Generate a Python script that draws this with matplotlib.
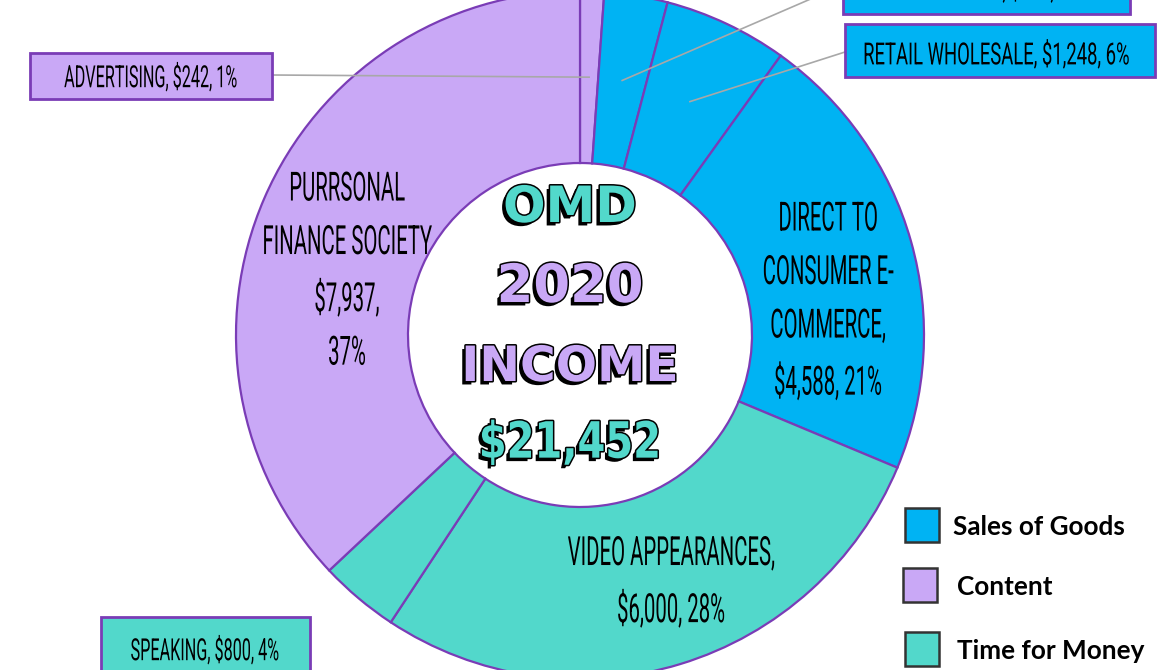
import matplotlib
matplotlib.use("Agg")
import matplotlib.pyplot as plt
import numpy as np
from matplotlib.patches import Rectangle
from matplotlib.patheffects import AbstractPathEffect, Normal, Stroke, SimplePatchShadow
from matplotlib.transforms import Affine2D

# ---------------- data ----------------
categories = ["ADVERTISING", "AFFILIATE", "RETAIL WHOLESALE",
              "DIRECT TO\nCONSUMER E-\nCOMMERCE", "VIDEO APPEARANCES",
              "SPEAKING", "PURRSONAL\nFINANCE SOCIETY"]
values = [242, 637, 1248, 4588, 6000, 800, 7937]
groups = ["Content", "Sales of Goods", "Sales of Goods", "Sales of Goods",
          "Time for Money", "Time for Money", "Content"]
legend_names = ["Sales of Goods", "Content", "Time for Money"]
legend_colors = ["#00B3F3", "#C9A8F6", "#52D8CB"]
title_lines = ["OMD", "2020", "INCOME", "$21,452"]
title_colors = ["#52D8CB", "#C9A8F6", "#C9A8F6", "#52D8CB"]
label_templates = ["{n}, {v}, {p}", "{n}, {v}, {p}", "{n}, {v}, {p}",
                   "{n},\n{v}, {p}", "{n},\n{v}, {p}", "{n}, {v}, {p}",
                   "{n}\n{v},\n{p}"]

# ---------------- layout (pixels, y down) ----------------
W, H = 1170, 670
CX, CY = 580, 335
R_OUT, RING = 344, 172
EDGE = "#7A3CB6"
# label placement: (x, y, box(x0, y0, x1, y1) or None, leader anchor, width factor)
label_layout = [
    (151, 77, (30, 53, 272, 99), (272, 75), 1.0),
    (1000, -11, (843, -32, 1130, 14), (843, -15), 1.1),
    (996, 55, (845, 24, 1155, 77), (845, 52), 1.14),
    (828, 300, None, None, 1.0),
    (671, 581, None, None, 1.0),
    (205, 650, (101, 617, 310, 700), None, 1.0),
    (347, 270, None, None, 1.0),
]


def Y(y):
    return H - y


class Stretch(AbstractPathEffect):
    """Draw glyphs taller than their nominal size (narrow hand-lettered look)."""

    def __init__(self, sy=1.9, yc=36.0, inner=None):
        super().__init__()
        self.sy = sy
        self.yc = yc
        self.inner = inner or [Normal()]

    def draw_path(self, renderer, gc, tpath, affine, rgbFace=None):
        t = (Affine2D().translate(0, -self.yc).scale(1, self.sy)
             .translate(0, self.yc) + affine)
        for pe in self.inner:
            pe.draw_path(renderer, gc, tpath, t, rgbFace)


color_of = dict(zip(legend_names, legend_colors))
colors = [color_of[g] for g in groups]
total = sum(values)

fig = plt.figure(figsize=(W / 100, H / 100), dpi=100)
ax = fig.add_axes([0, 0, 1, 1])

wedges, _ = ax.pie(values, colors=colors, startangle=90, counterclock=False,
                   radius=R_OUT, center=(CX, Y(CY)),
                   wedgeprops=dict(width=RING, edgecolor=EDGE, linewidth=1.6))
ax.set_xlim(0, W)
ax.set_ylim(0, H)
ax.set_aspect("equal")
ax.axis("off")

hand_font = dict(family=["Roboto", "DejaVu Sans"], weight="normal")


def hand_text(x, y, s, cap_size, narrow, linespacing=1.2, **kw):
    fs = cap_size * narrow
    return ax.text(x, Y(y), s, ha="center", va="center", fontsize=fs,
                   color="black", linespacing=linespacing,
                   path_effects=[Stretch(cap_size / fs, 35.5)], **hand_font, **kw)


for i, (name, v) in enumerate(zip(categories, values)):
    pct = f"{round(v / total * 100)}%"
    txt = label_templates[i].format(n=name, v=f"${v:,}", p=pct)
    x, y, box, anchor, wf = label_layout[i]
    if box is not None:
        x0, y0, x1, y1 = box
        ax.add_patch(Rectangle((x0, Y(y1)), x1 - x0, y1 - y0, facecolor=colors[i],
                               edgecolor=EDGE, linewidth=2, zorder=4))
        hand_text(x, y, txt, 22, 0.53 * wf, zorder=5)
        if anchor is not None:
            w = wedges[i]
            ang = np.deg2rad(0.5 * (w.theta1 + w.theta2))
            rm = R_OUT - RING / 2
            ex, ey = CX + rm * np.cos(ang), Y(CY) + rm * np.sin(ang)
            ax.plot([anchor[0], ex], [Y(anchor[1]), ey], color="#A8A8A8",
                    lw=1.2, zorder=3)
    else:
        hand_text(x, y, txt, 29, 0.505 * wf, linespacing=3.3, zorder=5)

# centre title
title_y = [208, 287, 367, 443]
title_sizes = [36, 38, 35, 36]
title_narrow = [1.0, 1.0, 1.0, 0.8]
for s, c, yy, fs, nr in zip(title_lines, title_colors, title_y, title_sizes, title_narrow):
    effects = [SimplePatchShadow(offset=(-2.5, -2.5), shadow_rgbFace="black", alpha=1),
               Stroke(linewidth=2.2, foreground="black"), Normal()]
    if nr != 1.0:
        effects = [Stretch(1 / nr, 36.5, effects)]
    ax.text(570, Y(yy), s, ha="center", va="center", fontsize=fs * nr, color=c,
            family=["DejaVu Sans"], weight="bold", zorder=6, path_effects=effects)

# legend
leg_y = [525, 585, 649]
leg_sq_x = [905, 903, 905]
leg_txt_x = [953, 957, 957]
for name, c, yy, sx, tx in zip(legend_names, legend_colors, leg_y, leg_sq_x, leg_txt_x):
    ax.add_patch(Rectangle((sx, Y(yy + 17)), 34, 34, facecolor=c,
                           edgecolor="#333333", linewidth=1.8, zorder=4))
    ax.text(tx, Y(yy + 2), name, ha="left", va="center", fontsize=18.8,
            family=["Lato", "DejaVu Sans"], weight="bold", color="black", zorder=5)

fig.savefig("out.png", dpi=100)
